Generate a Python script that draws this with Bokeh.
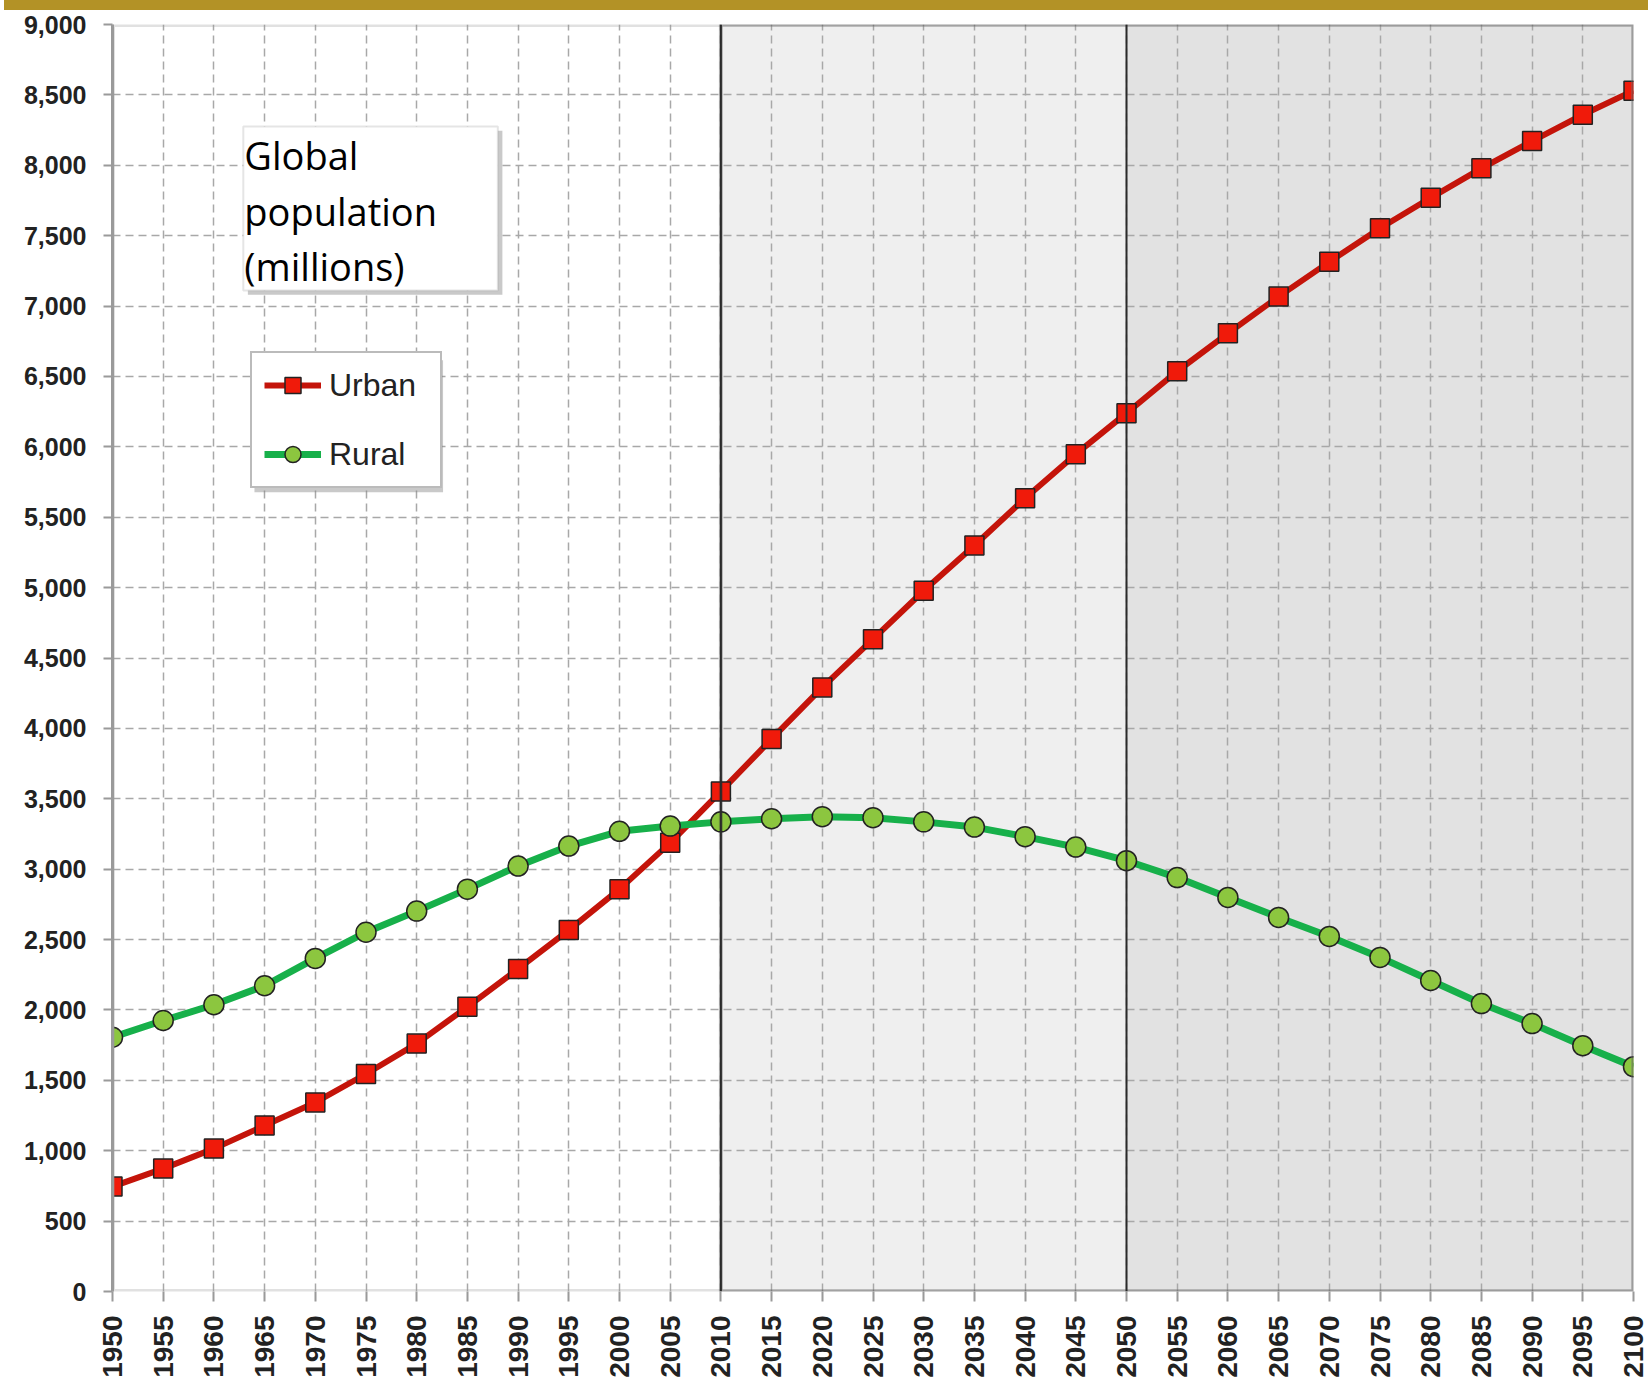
import math
from bokeh.plotting import figure
from bokeh.layouts import column
from bokeh.models import (Range1d, NumeralTickFormatter, BoxAnnotation, Label,
                          Legend, LegendItem, Span, Div)
from bokeh.embed import file_html
from bokeh.resources import INLINE

# ---- data ----
years = [1950, 1955, 1960, 1965, 1970, 1975, 1980, 1985, 1990, 1995, 2000,
         2005, 2010, 2015, 2020, 2025, 2030, 2035, 2040, 2045, 2050, 2055,
         2060, 2065, 2070, 2075, 2080, 2085, 2090, 2095, 2100]
urban = [745, 873, 1015, 1179, 1343, 1545, 1761, 2022, 2291, 2567, 2858,
         3187, 3552, 3925, 4291, 4634, 4978, 5299, 5635, 5948, 6239, 6537,
         6806, 7067, 7314, 7553, 7769, 7978, 8172, 8359, 8530]
rural = [1806, 1925, 2037, 2172, 2366, 2552, 2702, 2858, 3022, 3164, 3269,
         3306, 3336, 3358, 3373, 3366, 3336, 3299, 3231, 3157, 3060, 2940,
         2799, 2657, 2522, 2373, 2209, 2045, 1903, 1746, 1597]
y_ticks = [0, 500, 1000, 1500, 2000, 2500, 3000, 3500, 4000, 4500, 5000,
           5500, 6000, 6500, 7000, 7500, 8000, 8500, 9000]
series_labels = ["Urban", "Rural"]
title_lines = ["Global", "population", "(millions)"]
projection_start = 2010
horizon_year = 2050
end_year = 2100

# gold band at the top of the page
band = Div(text="", width=1644, height=10, margin=(0, 0, 0, 4),
           styles={"background-color": "#b39226"})

p = figure(width=1648, height=1371,
           x_range=Range1d(1950, 2100), y_range=Range1d(0, 9000),
           output_backend="svg", toolbar_location=None,
           min_border_left=112, min_border_right=15,
           min_border_top=14, min_border_bottom=90)
p.margin = (0, 0, 0, 0)
p.background_fill_color = "white"
p.border_fill_color = "white"
p.outline_line_color = None

# shaded projection regions
p.add_layout(BoxAnnotation(left=projection_start, right=horizon_year,
                           fill_color="#efefef", fill_alpha=1,
                           line_color=None, level="image"))
p.add_layout(BoxAnnotation(left=horizon_year, right=end_year,
                           fill_color="#e2e2e2", fill_alpha=1,
                           line_color=None, level="image"))

# axes / ticks
p.xaxis.ticker = years
p.yaxis.ticker = y_ticks
p.yaxis.formatter = NumeralTickFormatter(format="0,0")
p.xaxis.major_label_orientation = math.pi / 2
for ax in (p.xaxis[0], p.yaxis[0]):
    ax.major_label_text_font = "Liberation Sans"
    ax.major_label_text_font_style = "bold"
    ax.major_label_text_color = "#222222"
    ax.minor_tick_line_color = None
    ax.major_tick_in = 0
    ax.major_tick_line_color = "#9a9a9a"
    ax.major_tick_line_width = 2
p.xaxis.major_label_text_font_size = "28px"
p.yaxis.major_label_text_font_size = "25px"
p.xaxis.major_tick_out = 10
p.yaxis.major_tick_out = 9
p.xaxis.major_label_standoff = 14
p.yaxis.major_label_standoff = 17
p.xaxis.axis_line_color = None
p.yaxis.axis_line_color = "#9a9a9a"
p.yaxis.axis_line_width = 3

p.grid.grid_line_color = "#a8a8a8"
p.grid.grid_line_dash = "8 5"
p.grid.grid_line_width = 1.5

# frame borders (gray) and projection-region borders (dark)
frame_box = BoxAnnotation(fill_color=None, fill_alpha=0,
                          line_color="#9a9a9a", line_width=5, level="glyph")
proj_box = BoxAnnotation(left=projection_start, right=end_year,
                         fill_color=None, fill_alpha=0,
                         line_color="#2a2a2a", line_width=4, level="glyph")
p.add_layout(frame_box)
p.add_layout(proj_box)
p.add_layout(Span(location=projection_start, dimension="height",
                  line_color="#2a2a2a", line_width=2, level="glyph"))
p.add_layout(Span(location=horizon_year, dimension="height",
                  line_color="#2a2a2a", line_width=2, level="glyph"))

# series
ur_line = p.line(years, urban, line_color="#c4140a", line_width=6)
ur_pts = p.scatter(years, urban, marker="square", size=19,
                   fill_color="#f01a0a", line_color="#222222", line_width=1.5)
ru_line = p.line(years, rural, line_color="#17b04a", line_width=7)
ru_pts = p.scatter(years, rural, marker="circle", size=20,
                   fill_color="#8cc63f", line_color="#222222", line_width=1.5)

# title box with shadow
p.add_layout(BoxAnnotation(left=1963.35, right=1988.45, top=8245, bottom=7080,
                           fill_color="#888888", fill_alpha=0.45,
                           line_color=None))
p.add_layout(BoxAnnotation(left=1962.9, right=1988.0, top=8275, bottom=7110,
                           fill_color="white", fill_alpha=1,
                           line_color="#aaaaaa", line_width=2))
for txt, yy in zip(title_lines, [8075, 7675, 7282]):
    p.add_layout(Label(x=1963.0, y=yy, text=txt, text_font="Open Sans",
                       text_font_size="38px", text_color="black",
                       text_baseline="alphabetic"))

# legend shadow
p.add_layout(BoxAnnotation(left=1964.0, right=1982.6, top=6615, bottom=5677,
                           fill_color="#888888", fill_alpha=0.45,
                           line_color=None))

legend = Legend(items=[LegendItem(label=series_labels[0], renderers=[ur_line, ur_pts]),
                       LegendItem(label=series_labels[1], renderers=[ru_line, ru_pts])],
                location=(138, 803), orientation="vertical",
                border_line_color="#777777", border_line_width=2.5,
                background_fill_color="white", background_fill_alpha=1,
                padding=12, spacing=29, glyph_height=40, glyph_width=57,
                label_height=40, label_width=99, label_standoff=8,
                label_text_font="Liberation Sans", label_text_font_size="32px",
                label_text_color="#222222", margin=0)
p.add_layout(legend)

layout = column(band, p, spacing=0)
open("out.html", "w").write(file_html(layout, INLINE))
